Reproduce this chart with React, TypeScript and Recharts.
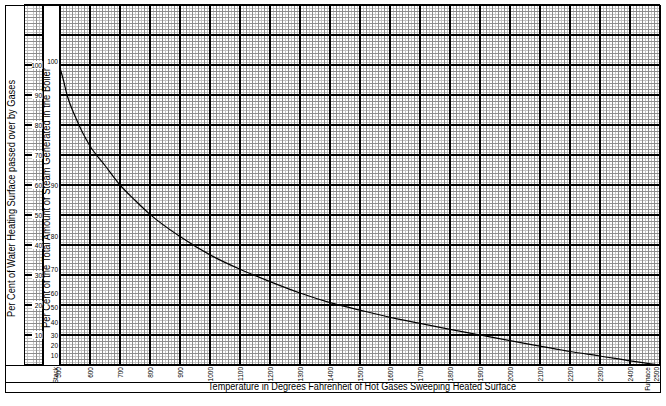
import { LineChart, Line, XAxis, YAxis, CartesianGrid } from 'recharts'

const W = 666
const H = 406
const FONT = '"Liberation Sans", Arial, sans-serif'

// temperature of the gases (deg F) and per cent of water heating surface passed over
const TEMPS = [500, 510, 525, 550, 600, 650, 700, 750, 800, 900, 1000, 1100, 1200, 1300, 1400, 1500, 1600, 1700, 1800, 1900, 2000, 2100, 2200, 2300, 2400, 2500]
const SURFACE = [99, 95.5, 89.5, 83, 73, 66.5, 60, 54.9, 50.2, 42.8, 36.7, 31.9, 27.8, 24, 20.8, 18.3, 15.9, 13.9, 11.9, 10, 8.1, 6.3, 4.5, 3.0, 1.4, 0]

const X_TICKS = [500, 600, 700, 800, 900, 1000, 1100, 1200, 1300, 1400, 1500, 1600, 1700, 1800, 1900, 2000, 2100, 2200, 2300, 2400, 2500]
const SURFACE_TICKS = [10, 20, 30, 40, 50, 60, 70, 80, 90, 100]
// inner scale: where each steam label sits on the surface scale
const STEAM_TICK_POS = [101.2, 60, 42.7, 31.7, 23.7, 19.3, 14.1, 9.7, 6.4, 3.3]
const STEAM_TICK_LABELS = ['100', '90', '80', '70', '60', '50', '40', '30', '20', '10']

const X_MIN = 380
const X_MAX = 2500
const Y_MIN = 0
const Y_MAX = 120
const STRIP_FROM = 443.33

const data = TEMPS.map((t, i) => ({ t, surface: SURFACE[i] }))

function px(props: any, v: number) {
  const s = props.xAxis?.scale
  if (typeof s === 'function') return s(v)
  const o = props.offset
  return o.left + ((v - X_MIN) / (X_MAX - X_MIN)) * o.width
}
function py(props: any, v: number) {
  const s = props.yAxis?.scale
  if (typeof s === 'function') return s(v)
  const o = props.offset
  return o.top + (1 - (v - Y_MIN) / (Y_MAX - Y_MIN)) * o.height
}

function range(from: number, to: number, step: number) {
  const out: number[] = []
  for (let v = from; v <= to + 1e-6; v += step) out.push(v)
  return out
}

const vLight = range(X_MIN + 10, X_MAX - 10, 10).filter(v => v % 20 !== 0)
const vDark = range(X_MIN + 10, X_MAX - 10, 10).filter(v => v % 20 === 0 && v % 100 !== 0)
const vMajor = range(500, 2500, 100)
const hLight = range(1, 119, 1).filter(v => v % 2 !== 0)
const hDark = range(1, 119, 1).filter(v => v % 2 === 0 && v % 10 !== 0)
const hMajor = range(0, 120, 10)

const XTick = ({ x, payload }: any) => {
  const v = payload.value
  const y0 = 367
  const lines = v === 500 ? [['Stack', -5], ['500', -1.5]] : v === 2500 ? [['Furnace', -13], ['2500', -4]] : [[String(v), 0]]
  return (
    <g>
      {lines.map(([s, dx]) => (
        <text key={String(s)} x={x + (dx as number)} y={y0} transform={`rotate(-90, ${x + (dx as number)}, ${y0})`}
          textAnchor="end" dominantBaseline="central" fontSize={6.5} fontFamily={FONT} fill="#000">{s}</text>
      ))}
    </g>
  )
}

const SurfaceTick = ({ y, payload }: any) => (
  <g>
    <rect x={32} y={y - 4} width={10.5} height={8} fill="#fff" />
    <text x={42} y={y} textAnchor="end" dominantBaseline="central" fontSize={6.5} fontFamily={FONT} fill="#000">{payload.value}</text>
  </g>
)

const SteamTick = ({ y, payload, index }: any) => {
  let i = STEAM_TICK_POS.findIndex(p => Math.abs(p - payload.value) < 1e-6)
  if (i < 0 && typeof index === 'number') i = index
  return (
    <text x={58} y={y} textAnchor="end" dominantBaseline="central" fontSize={6.5} fontFamily={FONT} fill="#000">
      {STEAM_TICK_LABELS[i] ?? ''}
    </text>
  )
}

export default function App() {
  return (
    <div style={{ position: 'absolute', left: 0, top: 0, width: W, height: H, background: '#fff' }}>
      <style>{`.recharts-cartesian-grid line { shape-rendering: crispEdges; }`}</style>
      <LineChart width={W} height={H} data={data} margin={{ top: 5, right: 6, bottom: 24, left: 22 }}>
        <CartesianGrid yAxisId="surface" stroke="#c4c4c4" strokeWidth={1}
          verticalCoordinatesGenerator={(p: any) => vLight.map(v => px(p, v))}
          horizontalCoordinatesGenerator={(p: any) => hLight.map(v => py(p, v))} />
        <CartesianGrid yAxisId="surface" stroke="#8c8c8c" strokeWidth={1}
          verticalCoordinatesGenerator={(p: any) => vDark.map(v => px(p, v))}
          horizontalCoordinatesGenerator={(p: any) => hDark.map(v => py(p, v))} />
        <CartesianGrid yAxisId="surface" stroke="#000" strokeWidth={2}
          verticalCoordinatesGenerator={(p: any) => vMajor.map(v => px(p, v))}
          horizontalCoordinatesGenerator={(p: any) => hMajor.map(v => py(p, v))} />
        {/* blank strip that carries the steam scale */}
        <CartesianGrid yAxisId="surface" horizontal={false} stroke="#000" strokeWidth={1}
          verticalFill={['none', '#fff', 'none']} fillOpacity={1}
          verticalCoordinatesGenerator={(p: any) => [X_MIN, STRIP_FROM, 500].map(v => px(p, v))} />
        <XAxis dataKey="t" type="number" domain={[X_MIN, X_MAX]} ticks={X_TICKS} height={17}
          axisLine={false} tickLine={false} tick={<XTick />} interval={0} allowDataOverflow />
        <YAxis yAxisId="surface" type="number" domain={[Y_MIN, Y_MAX]} ticks={SURFACE_TICKS} width={1}
          axisLine={false} tickLine={false} tick={<SurfaceTick />} interval={0} />
        <YAxis yAxisId="steam" type="number" domain={[Y_MIN, Y_MAX]} ticks={STEAM_TICK_POS} width={1}
          axisLine={false} tickLine={false} tick={<SteamTick />} interval={0} allowDataOverflow />
        <Line yAxisId="steam" type="monotone" dataKey="surface" stroke="none" strokeWidth={0}
          dot={false} activeDot={false} legendType="none" isAnimationActive={false} />
        <Line yAxisId="surface" type="monotone" dataKey="surface" stroke="#000" strokeWidth={1.2}
          dot={false} isAnimationActive={false} />
      </LineChart>
      <svg width={W} height={H} style={{ position: 'absolute', left: 0, top: 0, pointerEvents: 'none' }}>
        <g stroke="#000" strokeWidth={1} shapeRendering="crispEdges" fill="none">
          <rect x={5} y={5} width={655} height={387} />
          <line x1={24} y1={5} x2={24} y2={365} />
          <line x1={43} y1={5} x2={43} y2={365} />
          <line x1={60} y1={5} x2={60} y2={365} strokeWidth={2} />
          <line x1={5} y1={365} x2={660} y2={365} />
          <line x1={5} y1={382} x2={660} y2={382} />
        </g>
        <g fontFamily={FONT} fill="#000" fontSize={10}>
          <text x={15} y={198.5} transform="rotate(-90, 15, 198.5)" textAnchor="middle"
            textLength={237} lengthAdjust="spacingAndGlyphs">Per Cent of Water Heating Surface passed over by Gases</text>
          <text x={50} y={198} transform="rotate(-90, 50, 198)" textAnchor="middle"
            textLength={260} lengthAdjust="spacingAndGlyphs">Per Cent of the Total Amount of Steam Generated in the Boiler</text>
          <text x={362} y={390} textAnchor="middle"
            textLength={308} lengthAdjust="spacingAndGlyphs">Temperature in Degrees Fahrenheit of Hot Gases Sweeping Heated Surface</text>
        </g>
      </svg>
    </div>
  )
}
